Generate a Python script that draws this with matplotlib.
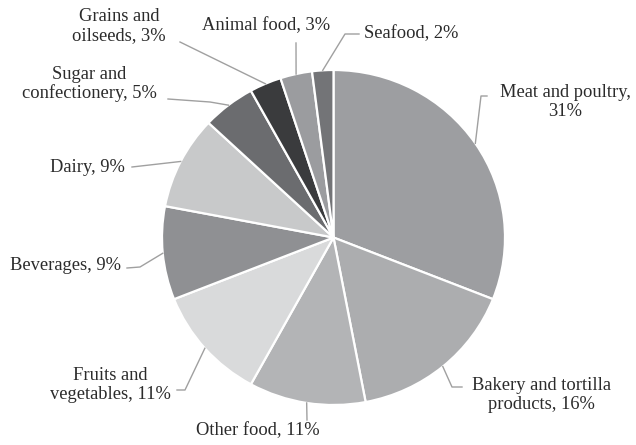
import numpy as np
import matplotlib
matplotlib.use("Agg")
import matplotlib.pyplot as plt
from matplotlib.lines import Line2D

# ---------- data ----------
labels = ["Meat and poultry,\n31%", "Bakery and tortilla\nproducts, 16%", "Other food, 11%",
          "Fruits and\nvegetables, 11%", "Beverages, 9%", "Dairy, 9%",
          "Sugar and\nconfectionery, 5%", "Grains and\noilseeds, 3%", "Animal food, 3%",
          "Seafood, 2%"]
shares = [31, 16, 11, 11, 9, 9, 5, 3, 3, 2]
colors = ["#9d9ea1", "#acadaf", "#b3b4b6", "#d9dadb", "#8f9093",
          "#c8c9ca", "#6b6c6f", "#3a3b3d", "#9b9c9f", "#737477"]

# ---------- label layout (pixels, image coords) ----------
# text centre and leader path (elbow, end) from the wedge rim
text_pos = [(565, 102), (541, 395), (258, 431), (110, 385), (65, 266),
            (87, 167), (89, 84), (119, 26), (266, 26), (411, 34)]
leader = [[(481, 96), (487, 96)],
          [(452, 387), (462, 387)],
          [(307, 420)],
          [(185, 390), (177, 390)],
          [(140, 267), (127, 268)],
          [(132, 167)],
          [(210, 102), (168, 99)],
          [(180, 42)],
          [(296, 43)],
          [(345, 34), (359, 34)]]

W, H = 636, 445
fig = plt.figure(figsize=(W / 100, H / 100), dpi=100)
# pie box in pixels: left 162, right 505, top 70, bottom 405
ax = fig.add_axes([162 / W, 1 - 405 / H, 343 / W, 335 / H])
wedges, _ = ax.pie(shares, colors=colors, startangle=90, counterclock=False,
                   radius=1, wedgeprops=dict(edgecolor="white", linewidth=1.6))
ax.set_xlim(-1, 1)
ax.set_ylim(-1, 1)
ax.set_aspect("auto")
ax.axis("off")


def fig_frac(p):
    return (p[0] / W, 1 - p[1] / H)


fig.canvas.draw()
for w, lab, tp, path in zip(wedges, labels, text_pos, leader):
    ang = np.deg2rad((w.theta1 + w.theta2) / 2)
    disp = ax.transData.transform((np.cos(ang), np.sin(ang)))
    start = fig.transFigure.inverted().transform(disp)
    pts = [tuple(start)] + [fig_frac(p) for p in path]
    xs, ys = zip(*pts)
    fig.add_artist(Line2D(xs, ys, transform=fig.transFigure, color="#a0a0a0", lw=1.0))
    fig.text(*fig_frac(tp), lab, ha="center", va="center", fontsize=13.3,
             family="Liberation Serif", color="#2b2b2b", linespacing=1.12,
             multialignment="center")

fig.savefig("out.png", dpi=100, facecolor="white")
